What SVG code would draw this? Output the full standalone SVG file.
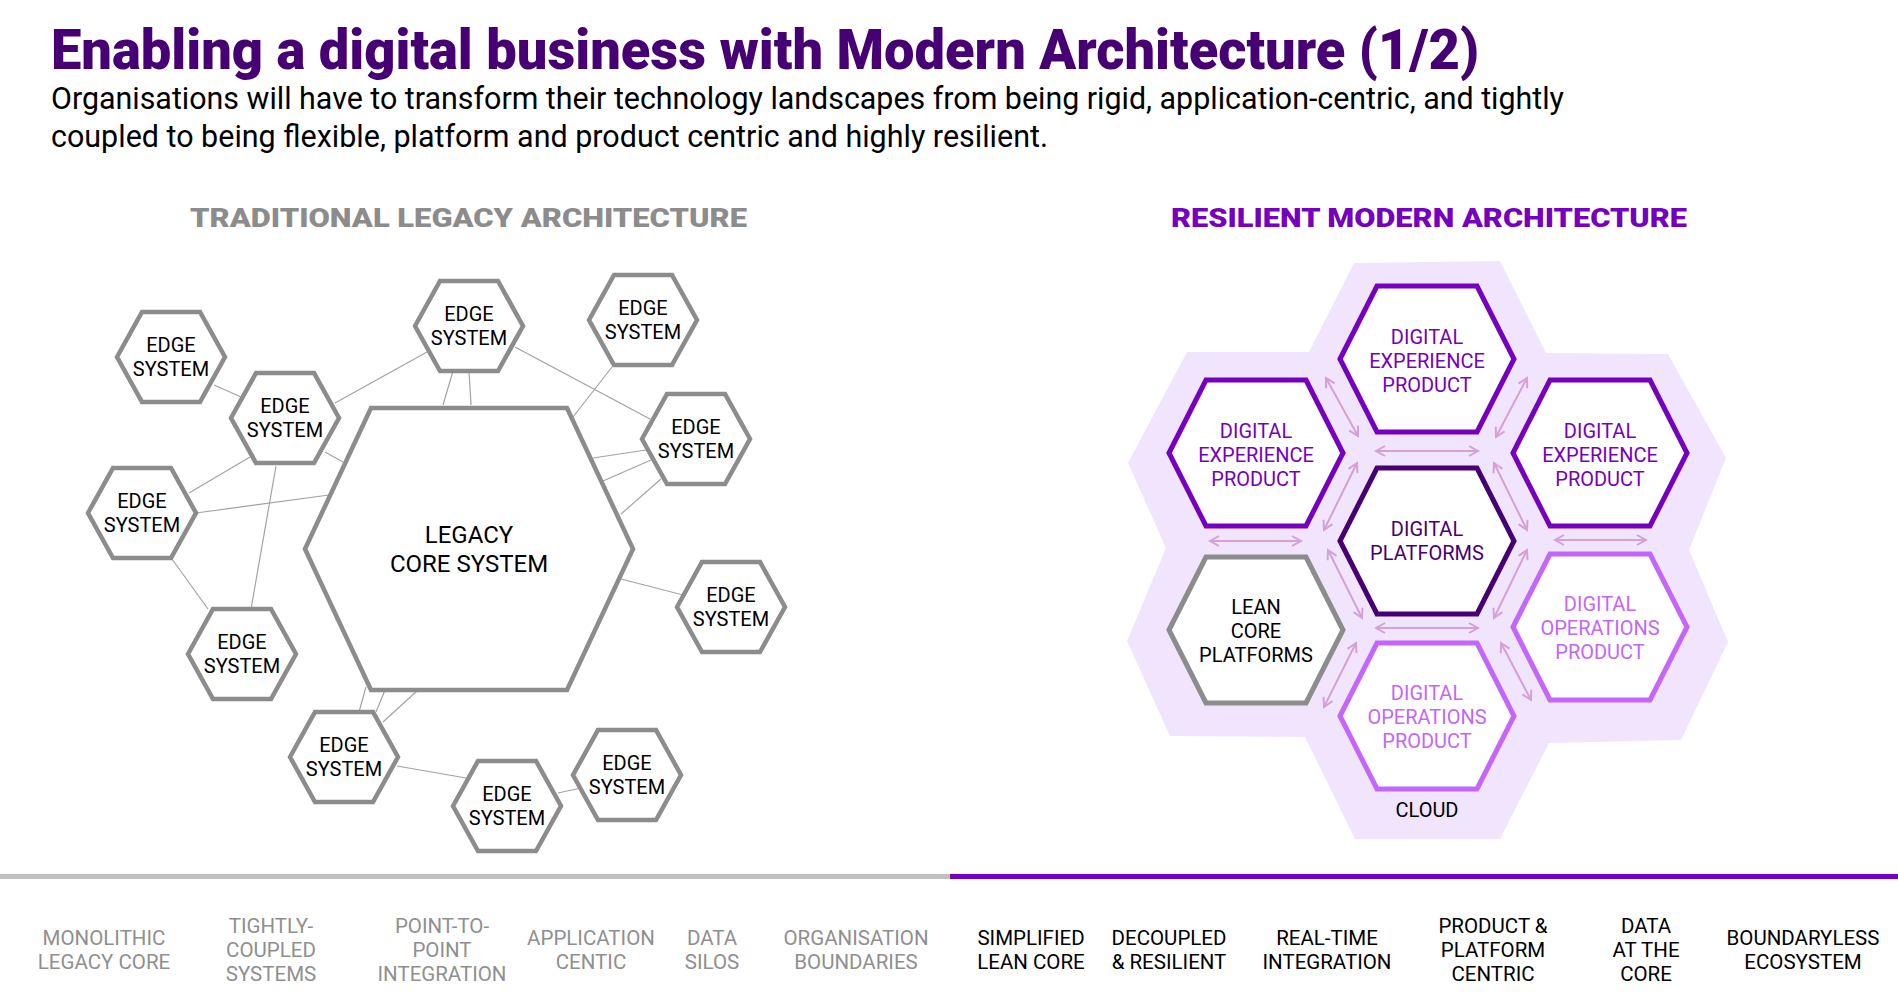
<svg xmlns="http://www.w3.org/2000/svg" xmlns:xlink="http://www.w3.org/1999/xlink" width="1898" height="994" viewBox="0 0 1898 994">
<style>
text{font-family:Roboto,"Liberation Sans",sans-serif;}
.ttl{font-size:56px;font-weight:900;fill:#460073;}
.sub{font-size:31px;fill:#000;}
.hd{font-size:26px;font-weight:900;}
.edge{fill:#fff;stroke:#8c8c8c;stroke-width:4.5;stroke-linejoin:miter;}
.et{font-size:20px;fill:#000;text-anchor:middle;}
.conn line{stroke:#a3a3a3;stroke-width:1.2;}
.mh{fill:#fff;stroke-width:5;}
.mt{font-size:20px;text-anchor:middle;}
.arr line{stroke:#d4a0d6;stroke-width:2;marker-start:url(#ah);marker-end:url(#ah);}
.bl{font-size:20.5px;text-anchor:middle;}
.g{fill:#8f8f8f;}
.k{fill:#000;}
</style>
<defs>
<polygon id="sh" points="-54,0 -29,-45 29,-45 54,0 29,45 -29,45"/>
<polygon id="mhx" points="-87,0 -50,-73 50,-73 87,0 50,73 -50,73"/>
<marker id="ah" viewBox="0 0 12 12" refX="10" refY="6" markerWidth="12" markerHeight="12" markerUnits="userSpaceOnUse" orient="auto-start-reverse">
<path d="M1,1 L10,6 L1,11" fill="none" stroke="#d4a0d6" stroke-width="2"/>
</marker>
</defs>
<rect width="1898" height="994" fill="#fff"/>

<text class="ttl" x="51" y="69" textLength="1428" lengthAdjust="spacingAndGlyphs">Enabling a digital business with Modern Architecture (1/2)</text>
<text class="sub" x="51" y="109" textLength="1513" lengthAdjust="spacingAndGlyphs">Organisations will have to transform their technology landscapes from being rigid, application-centric, and tightly</text>
<text class="sub" x="51" y="147" textLength="997" lengthAdjust="spacingAndGlyphs">coupled to being flexible, platform and product centric and highly resilient.</text>

<text class="hd" x="190" y="227" fill="#8c8c8c" textLength="557" lengthAdjust="spacingAndGlyphs">TRADITIONAL LEGACY ARCHITECTURE</text>
<text class="hd" x="1171" y="227" fill="#7500c0" textLength="516" lengthAdjust="spacingAndGlyphs">RESILIENT MODERN ARCHITECTURE</text>

<g id="legacy-connectors" class="conn">
<line x1="214" y1="385" x2="241" y2="397"/>
<line x1="335" y1="403" x2="427" y2="352"/>
<line x1="443" y1="405" x2="453" y2="371"/>
<line x1="471" y1="405" x2="469" y2="371"/>
<line x1="515" y1="347" x2="650" y2="419"/>
<line x1="612" y1="367" x2="573" y2="417"/>
<line x1="593" y1="458" x2="646" y2="450"/>
<line x1="603" y1="481" x2="651" y2="460"/>
<line x1="621" y1="514" x2="661" y2="479"/>
<line x1="325" y1="452" x2="343" y2="462"/>
<line x1="250" y1="457" x2="189" y2="493"/>
<line x1="276" y1="466" x2="251" y2="609"/>
<line x1="196" y1="513" x2="329" y2="495"/>
<line x1="172" y1="559" x2="208" y2="609"/>
<line x1="621" y1="579" x2="683" y2="595"/>
<line x1="359" y1="712" x2="366" y2="687"/>
<line x1="376" y1="712" x2="385" y2="690"/>
<line x1="383" y1="722" x2="418" y2="690"/>
<line x1="397" y1="766" x2="466" y2="778"/>
<line x1="558" y1="793" x2="581" y2="788"/>
</g>

<g id="legacy-core">
<polygon class="edge" points="305,549 371,408 567,408 633,549 567,690 371,690"/>
<text x="469" y="543" font-size="24" text-anchor="middle">LEGACY</text>
<text x="469" y="572" font-size="24" text-anchor="middle">CORE SYSTEM</text>
</g>
<g id="edge1"><use href="#sh" class="edge" x="171" y="357"/><text class="et" x="171" y="352">EDGE</text><text class="et" x="171" y="376">SYSTEM</text></g>
<g id="edge2"><use href="#sh" class="edge" x="285" y="418"/><text class="et" x="285" y="413">EDGE</text><text class="et" x="285" y="437">SYSTEM</text></g>
<g id="edge3"><use href="#sh" class="edge" x="469" y="326"/><text class="et" x="469" y="321">EDGE</text><text class="et" x="469" y="345">SYSTEM</text></g>
<g id="edge4"><use href="#sh" class="edge" x="643" y="320"/><text class="et" x="643" y="315">EDGE</text><text class="et" x="643" y="339">SYSTEM</text></g>
<g id="edge5"><use href="#sh" class="edge" x="696" y="439"/><text class="et" x="696" y="434">EDGE</text><text class="et" x="696" y="458">SYSTEM</text></g>
<g id="edge6"><use href="#sh" class="edge" x="142" y="513"/><text class="et" x="142" y="508">EDGE</text><text class="et" x="142" y="532">SYSTEM</text></g>
<g id="edge7"><use href="#sh" class="edge" x="242" y="654"/><text class="et" x="242" y="649">EDGE</text><text class="et" x="242" y="673">SYSTEM</text></g>
<g id="edge8"><use href="#sh" class="edge" x="731" y="607"/><text class="et" x="731" y="602">EDGE</text><text class="et" x="731" y="626">SYSTEM</text></g>
<g id="edge9"><use href="#sh" class="edge" x="344" y="757"/><text class="et" x="344" y="752">EDGE</text><text class="et" x="344" y="776">SYSTEM</text></g>
<g id="edge10"><use href="#sh" class="edge" x="507" y="806"/><text class="et" x="507" y="801">EDGE</text><text class="et" x="507" y="825">SYSTEM</text></g>
<g id="edge11"><use href="#sh" class="edge" x="627" y="775"/><text class="et" x="627" y="770">EDGE</text><text class="et" x="627" y="794">SYSTEM</text></g>

<g id="cloud">
<polygon fill="#f1e5fe" points="1354,263 1500,261 1546,353 1668,354 1726,458 1689,550 1728,642 1681,740 1549,743 1500,839 1355,839 1305,737 1170,736 1127,641 1166,548 1128,463 1187,352 1309,352"/>
<text x="1427" y="817" font-size="20" text-anchor="middle" fill="#000">CLOUD</text>
</g>

<g id="modern-arrows" class="arr">
<line x1="1326" y1="378" x2="1358" y2="436"/>
<line x1="1527" y1="378" x2="1496" y2="437"/>
<line x1="1376" y1="451" x2="1478" y2="451"/>
<line x1="1324" y1="530" x2="1357" y2="463"/>
<line x1="1494" y1="463" x2="1527" y2="530"/>
<line x1="1210" y1="541" x2="1301" y2="541"/>
<line x1="1555" y1="540" x2="1646" y2="540"/>
<line x1="1328" y1="550" x2="1362" y2="618"/>
<line x1="1527" y1="550" x2="1494" y2="618"/>
<line x1="1376" y1="628" x2="1478" y2="628"/>
<line x1="1356" y1="643" x2="1324" y2="707"/>
<line x1="1501" y1="643" x2="1531" y2="700"/>
</g>

<g id="dxp-top"><use href="#mhx" class="mh" stroke="#7500c0" x="1427" y="359"/><text class="mt" fill="#7500c0" x="1427" y="344">DIGITAL</text><text class="mt" fill="#7500c0" x="1427" y="368">EXPERIENCE</text><text class="mt" fill="#7500c0" x="1427" y="392">PRODUCT</text></g>
<g id="dxp-left"><use href="#mhx" class="mh" stroke="#7500c0" x="1256" y="453"/><text class="mt" fill="#7500c0" x="1256" y="438">DIGITAL</text><text class="mt" fill="#7500c0" x="1256" y="462">EXPERIENCE</text><text class="mt" fill="#7500c0" x="1256" y="486">PRODUCT</text></g>
<g id="dxp-right"><use href="#mhx" class="mh" stroke="#7500c0" x="1600" y="453"/><text class="mt" fill="#7500c0" x="1600" y="438">DIGITAL</text><text class="mt" fill="#7500c0" x="1600" y="462">EXPERIENCE</text><text class="mt" fill="#7500c0" x="1600" y="486">PRODUCT</text></g>
<g id="platforms"><use href="#mhx" class="mh" stroke="#460073" x="1427" y="541"/><text class="mt" fill="#460073" x="1427" y="536">DIGITAL</text><text class="mt" fill="#460073" x="1427" y="560">PLATFORMS</text></g>
<g id="lean-core"><use href="#mhx" class="mh" stroke="#8c8c8c" x="1256" y="630"/><text class="mt" fill="#000" x="1256" y="614">LEAN</text><text class="mt" fill="#000" x="1256" y="638">CORE</text><text class="mt" fill="#000" x="1256" y="662">PLATFORMS</text></g>
<g id="dop-right"><use href="#mhx" class="mh" stroke="#c466fa" x="1600" y="627"/><text class="mt" fill="#c466fa" x="1600" y="611">DIGITAL</text><text class="mt" fill="#c466fa" x="1600" y="635">OPERATIONS</text><text class="mt" fill="#c466fa" x="1600" y="659">PRODUCT</text></g>
<g id="dop-bottom"><use href="#mhx" class="mh" stroke="#c466fa" x="1427" y="716"/><text class="mt" fill="#c466fa" x="1427" y="700">DIGITAL</text><text class="mt" fill="#c466fa" x="1427" y="724">OPERATIONS</text><text class="mt" fill="#c466fa" x="1427" y="748">PRODUCT</text></g>

<rect x="0" y="874" width="950" height="5" fill="#c0c0c0"/>
<rect x="950" y="874" width="948" height="5" fill="#7500c0"/>

<g id="legacy-traits">
<text class="bl g" x="104" y="945">MONOLITHIC</text><text class="bl g" x="104" y="969">LEGACY CORE</text>
<text class="bl g" x="271" y="933">TIGHTLY-</text><text class="bl g" x="271" y="957">COUPLED</text><text class="bl g" x="271" y="981">SYSTEMS</text>
<text class="bl g" x="442" y="933">POINT-TO-</text><text class="bl g" x="442" y="957">POINT</text><text class="bl g" x="442" y="981">INTEGRATION</text>
<text class="bl g" x="591" y="945">APPLICATION</text><text class="bl g" x="591" y="969">CENTIC</text>
<text class="bl g" x="712" y="945">DATA</text><text class="bl g" x="712" y="969">SILOS</text>
<text class="bl g" x="856" y="945">ORGANISATION</text><text class="bl g" x="856" y="969">BOUNDARIES</text>
</g>
<g id="modern-traits">
<text class="bl k" x="1031" y="945">SIMPLIFIED</text><text class="bl k" x="1031" y="969">LEAN CORE</text>
<text class="bl k" x="1169" y="945">DECOUPLED</text><text class="bl k" x="1169" y="969">&amp; RESILIENT</text>
<text class="bl k" x="1327" y="945">REAL-TIME</text><text class="bl k" x="1327" y="969">INTEGRATION</text>
<text class="bl k" x="1493" y="933">PRODUCT &amp;</text><text class="bl k" x="1493" y="957">PLATFORM</text><text class="bl k" x="1493" y="981">CENTRIC</text>
<text class="bl k" x="1646" y="933">DATA</text><text class="bl k" x="1646" y="957">AT THE</text><text class="bl k" x="1646" y="981">CORE</text>
<text class="bl k" x="1803" y="945">BOUNDARYLESS</text><text class="bl k" x="1803" y="969">ECOSYSTEM</text>
</g>
</svg>
